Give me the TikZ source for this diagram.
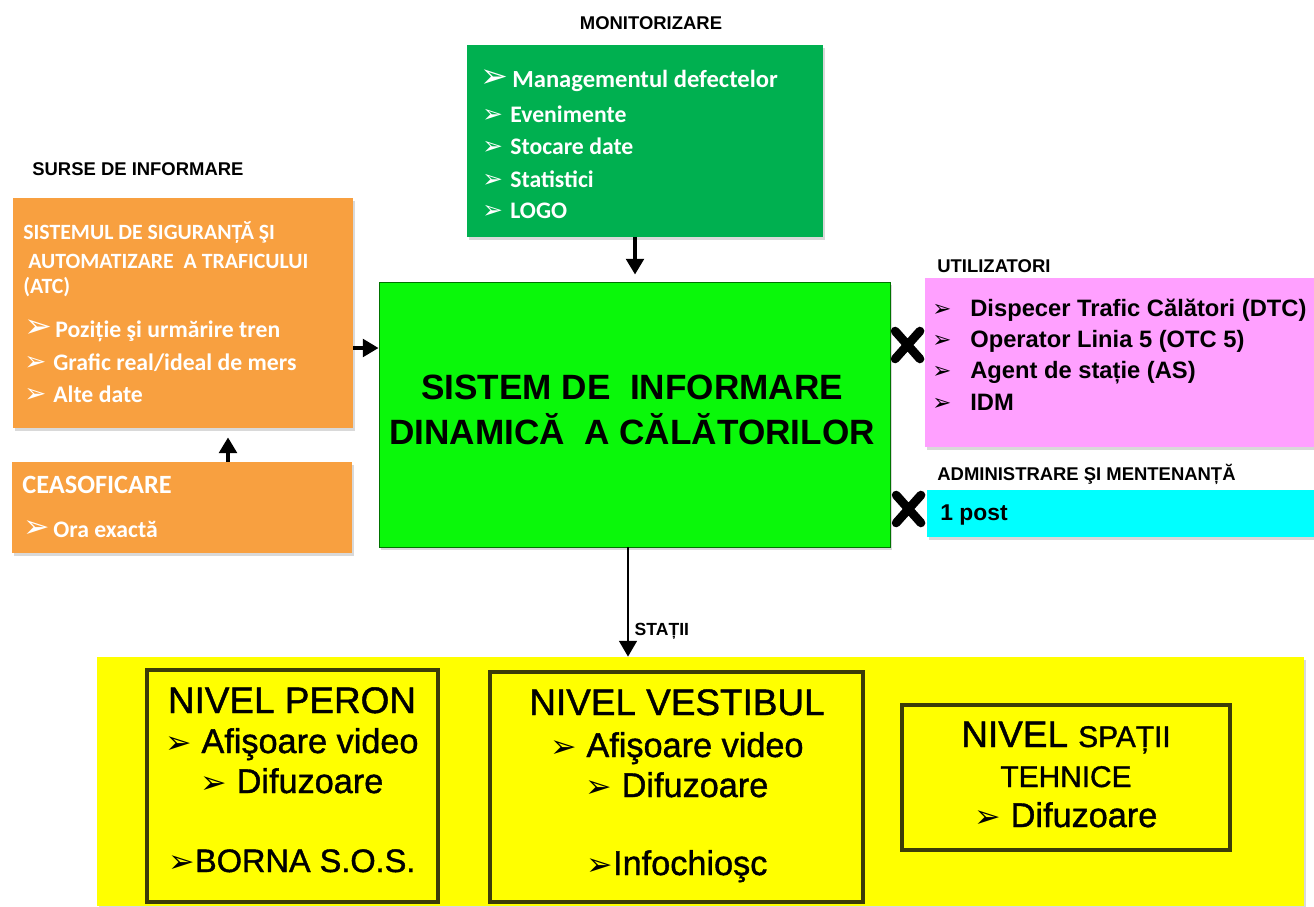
\documentclass[tikz,border=0pt]{standalone}
\usepackage{fontspec}
\setmainfont{Liberation Sans}
\newfontfamily\calfont{Carlito}
\newfontfamily\symfont{DejaVu Sans}
\newfontfamily\heavyfont[FakeBold=1.2]{Liberation Sans}
\usetikzlibrary{arrows.meta,fit,shapes.misc,shadows}
\definecolor{monigreen}{HTML}{00B050}
\definecolor{maingreen}{HTML}{0AF80A}
\definecolor{srcorange}{HTML}{F8A040}
\definecolor{userpink}{HTML}{FFA0FF}
\definecolor{admcyan}{HTML}{00FFFF}
\definecolor{statyellow}{HTML}{FFFF00}
\definecolor{levelframe}{HTML}{3C3C08}
\newcommand\blt[1]{{\symfont\fontsize{#1}{#1}\selectfont ➢}}
\begin{document}
\begin{tikzpicture}[x=0.02cm, y=-0.02cm,
  box/.style={inner sep=0pt, drop shadow={opacity=0.3, shadow xshift=1pt, shadow yshift=-1.5pt}},
  levelbox/.style={draw=levelframe, line width=2.4pt, inner sep=0pt},
  heading/.style={inner sep=0pt, anchor=base west, font=\bfseries\fontsize{10.5}{12}\selectfont},
  wtext/.style={inner sep=0pt, anchor=base west, text=white},
  btext/.style={inner sep=0pt, anchor=base west, font=\bfseries\fontsize{13.5}{16}\selectfont},
  ltext/.style={inner sep=0pt, anchor=base, font=\heavyfont\fontsize{19.5}{22}\selectfont},
  link/.style={-{Triangle[length=9pt, width=10pt]}, line width=2.2pt},
  xmark/.style={cross out, draw, line width=5pt, line cap=round, minimum width=0.32cm, minimum height=0.38cm, inner sep=0pt}]
  \useasboundingbox (0,0) rectangle (1314,906);

  % boxes
  \node[box, fill=monigreen, fit={(467,45) (823,237)}] (mon) {};
  \node[box, fill=maingreen, draw=green!45!black, line width=0.5pt, fit={(379,282) (890,547)}] (main) {};
  \node[box, fill=srcorange, fit={(13,198) (353,428)}] (atc) {};
  \node[box, fill=srcorange, fit={(12,462) (352,553)}] (ceas) {};
  \node[box, fill=userpink, fit={(925,278) (1314,447)}] (users) {};
  \node[box, fill=admcyan, fit={(927,490) (1314,537)}] (adm) {};
  \node[box, fill=statyellow, fit={(97,657) (1304,906)}] (stations) {};
  \node[levelbox, fit={(147,670) (438,902)}] (peron) {};
  \node[levelbox, fit={(490,672) (863,902)}] (vest) {};
  \node[levelbox, fit={(902,705) (1230,850)}] (tech) {};

  % headings
  \node[heading, anchor=base] (hmon) at (651,30) {MONITORIZARE};
  \node[heading] (hsrc) at (32,175) {SURSE DE INFORMARE};
  \node[heading] (husers) at (937,272) {UTILIZATORI};
  \node[heading] (hadm) at (937,480) {ADMINISTRARE ŞI MENTENANȚĂ};

  % monitorizare
  \node[wtext, font=\calfont\bfseries\fontsize{14}{16}\selectfont] (m1) at (480,87) {\makebox[0.64cm][l]{\blt{19}}Managementul defectelor};
  \node[wtext, font=\calfont\bfseries\fontsize{13.5}{16}\selectfont] (m2) at (482,122) {\makebox[0.56cm][l]{\blt{14}}Evenimente};
  \node[wtext, font=\calfont\bfseries\fontsize{13.5}{16}\selectfont] (m3) at (482,154) {\makebox[0.56cm][l]{\blt{14}}Stocare date};
  \node[wtext, font=\calfont\bfseries\fontsize{13.5}{16}\selectfont] (m4) at (482,187) {\makebox[0.56cm][l]{\blt{14}}Statistici};
  \node[wtext, font=\calfont\bfseries\fontsize{13.5}{16}\selectfont] (m5) at (482,218) {\makebox[0.56cm][l]{\blt{14}}LOGO};

  % surse de informare
  \node[wtext, font=\calfont\bfseries\fontsize{12.4}{14}\selectfont] (a1) at (23,239) {SISTEMUL DE SIGURANȚĂ ŞI};
  \node[wtext, font=\calfont\bfseries\fontsize{12.4}{14}\selectfont] (a2) at (23,268) {\hspace{0.1cm}AUTOMATIZARE~~A TRAFICULUI};
  \node[wtext, font=\calfont\bfseries\fontsize{12.4}{14}\selectfont] (a3) at (23,293) {(ATC)};
  \node[wtext, font=\calfont\bfseries\fontsize{13.5}{16}\selectfont] (a4) at (24,337) {\makebox[0.62cm][l]{\blt{19}}Poziție şi urmărire tren};
  \node[wtext, font=\calfont\bfseries\fontsize{13.5}{16}\selectfont] (a5) at (24,370) {\makebox[0.58cm][l]{\blt{15}}Grafic real/ideal de mers};
  \node[wtext, font=\calfont\bfseries\fontsize{13.5}{16}\selectfont] (a6) at (24,402) {\makebox[0.58cm][l]{\blt{15}}Alte date};
  \node[wtext, font=\calfont\bfseries\fontsize{15}{18}\selectfont] (c1) at (22,493) {CEASOFICARE};
  \node[wtext, font=\calfont\bfseries\fontsize{13.5}{16}\selectfont] (c2) at (23,537) {\makebox[0.6cm][l]{\blt{18}}Ora exactă};

  % sistem
  \node[font=\bfseries\fontsize{20}{25.5}\selectfont, align=center] (title) at (632,410) {SISTEM DE~~INFORMARE\\DINAMICĂ~~A CĂLĂTORILOR};

  % utilizatori
  \node[btext] (u1) at (932,316) {\makebox[0.76cm][l]{\blt{13}}Dispecer Trafic Călători (DTC)};
  \node[btext] (u2) at (932,347) {\makebox[0.76cm][l]{\blt{13}}Operator Linia 5 (OTC 5)};
  \node[btext] (u3) at (932,378) {\makebox[0.76cm][l]{\blt{13}}Agent de stație (AS)};
  \node[btext] (u4) at (932,410) {\makebox[0.76cm][l]{\blt{13}}IDM};
  \node[btext, font=\bfseries\fontsize{13}{16}\selectfont] (post) at (940,520) {1 post};

  % nivele
  \node[ltext, font=\heavyfont\fontsize{21}{24}\selectfont] (p1) at (292,713) {NIVEL PERON};
  \node[ltext] (p2) at (292,753) {\blt{18} Afişoare video};
  \node[ltext] (p3) at (292,793) {\blt{18} Difuzoare};
  \node[ltext, font=\heavyfont\fontsize{18.5}{22}\selectfont] (p4) at (292,872) {\blt{18}BORNA S.O.S.};
  \node[ltext, font=\heavyfont\fontsize{21}{24}\selectfont] (v1) at (677,715) {NIVEL VESTIBUL};
  \node[ltext] (v2) at (677,757) {\blt{18} Afişoare video};
  \node[ltext] (v3) at (677,797) {\blt{18} Difuzoare};
  \node[ltext] (v4) at (677,875) {\blt{18}Infochioşc};
  \node[ltext, font=\heavyfont\fontsize{21}{24}\selectfont] (t1) at (1066,747) {NIVEL {\fontsize{17}{20}\selectfont SPAȚII}};
  \node[ltext, font=\heavyfont\fontsize{17}{20}\selectfont] (t2) at (1066,787) {TEHNICE};
  \node[ltext] (t3) at (1066,827) {\blt{18} Difuzoare};

  % legaturi
  \draw[link, shorten >=0.14cm] (mon.south -| 635,0) -- (main.north -| 635,0);
  \draw[link, line width=2.6pt] (atc.east |- 0,348) -- (main.west |- 0,348);
  \draw[link, line width=2.6pt, shorten >=0.18cm] (ceas.north -| 228,0) -- (atc.south -| 228,0);
  \draw[link, line width=1.6pt] (main.south -| 628,0) -- node[pos=0.77, right, inner sep=3pt, font=\bfseries\fontsize{10}{12}\selectfont] {STAȚII} (stations.north -| 628,0);
  \path (main.east |- 0,345) -- node[xmark] {} (users.west |- 0,345);
  \path (main.east |- 0,509) -- node[xmark] {} (adm.west |- 0,509);
\end{tikzpicture}
\end{document}
